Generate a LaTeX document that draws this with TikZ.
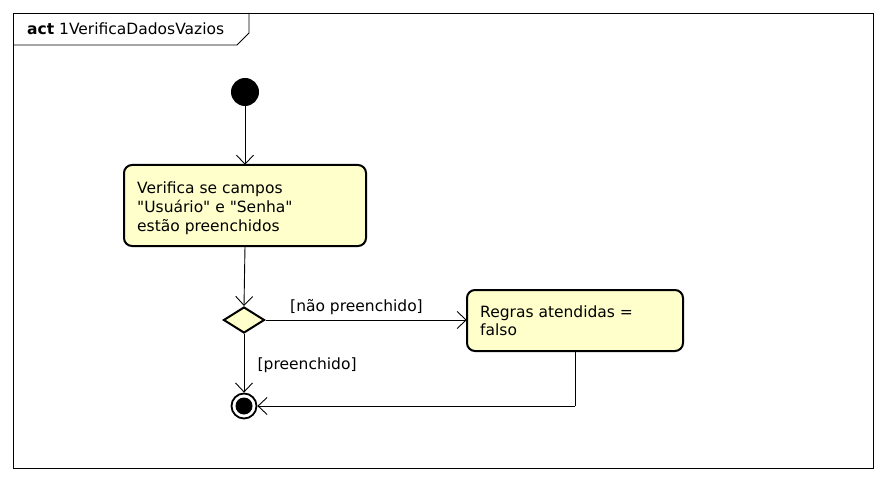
\documentclass[tikz,border=0pt]{standalone}
\usepackage{fontspec}
\setmainfont{DejaVu Sans}[Ligatures=TeXOff]
\usetikzlibrary{arrows.meta,shapes.geometric}
\definecolor{actfill}{HTML}{FFFFCC}
\tikzset{
  x=1pt,y=-1pt,
  every node/.style={font=\fontsize{15.5}{19}\selectfont},
  actbox/.style={draw,line width=2pt,rounded corners=8pt,fill=actfill,inner sep=0pt,anchor=north west},
  flow/.style={draw,line width=0.9pt,-{Straight Barb[length=9pt,width=17pt,line width=0.9pt]}},
  plain/.style={draw,line width=0.9pt},
  txt/.style={anchor=base west,inner sep=0pt,align=left},
}
\begin{document}
\begin{tikzpicture}
\useasboundingbox (0,0) rectangle (885,481);
\fill[white] (0,0) rectangle (885,481);
% frame
\draw[line width=0.9pt] (13,13) rectangle (873,468);
\draw[line width=0.9pt] (13,45) -- (237,45) -- (249,33) -- (249,13);
\node[txt] (title) at (27,35) {\textbf{act} 1VerificaDadosVazios};
% initial
\node[circle,fill=black,minimum size=28pt,inner sep=0pt] (ini) at (245,92) {};
% action 1
\path[actbox] (124,165) rectangle (366,246);
\node[draw=none,minimum width=242pt,minimum height=81pt,inner sep=0pt] (a1) at (245,205.5) {};
\node[txt] (a1t) at (137,231) {Verifica se campos\\"Usuário" e "Senha"\\estão preenchidos};
% decision
\node[diamond,draw,line width=2pt,fill=actfill,minimum width=41pt,minimum height=26pt,inner sep=0pt,aspect=1.6] (dec) at (244,320) {};
% action 2
\path[actbox] (467,290) rectangle (683,351);
\node[draw=none,minimum width=216pt,minimum height=61pt,inner sep=0pt] (a2) at (575,320.5) {};
\node[txt,font=\fontsize{15.5}{18}\selectfont] (a2t) at (480,335) {Regras atendidas =\\falso};
% final
\node[circle,draw,line width=1.8pt,fill=white,minimum size=25pt,inner sep=0pt] (fin) at (244,406) {};
\node[circle,fill=black,minimum size=17pt,inner sep=0pt] (finin) at (244,406) {};
% connectors
\draw[flow] (ini.south) -- (a1.north);
\draw[flow] (a1.south) -- (dec.north);
\draw[flow] (dec.east) -- (dec.east -| a2.west);
\node[txt] (l1) at (290,311.5) {[não preenchido]};
\draw[flow] (dec.south) -- (fin.north);
\node[txt] (l2) at (257.5,369) {[preenchido]};
\coordinate (corner) at (575,406);
\draw[plain] (a2.south) -- (corner);
\draw[flow] (corner) -- (fin.east);
\end{tikzpicture}
\end{document}
